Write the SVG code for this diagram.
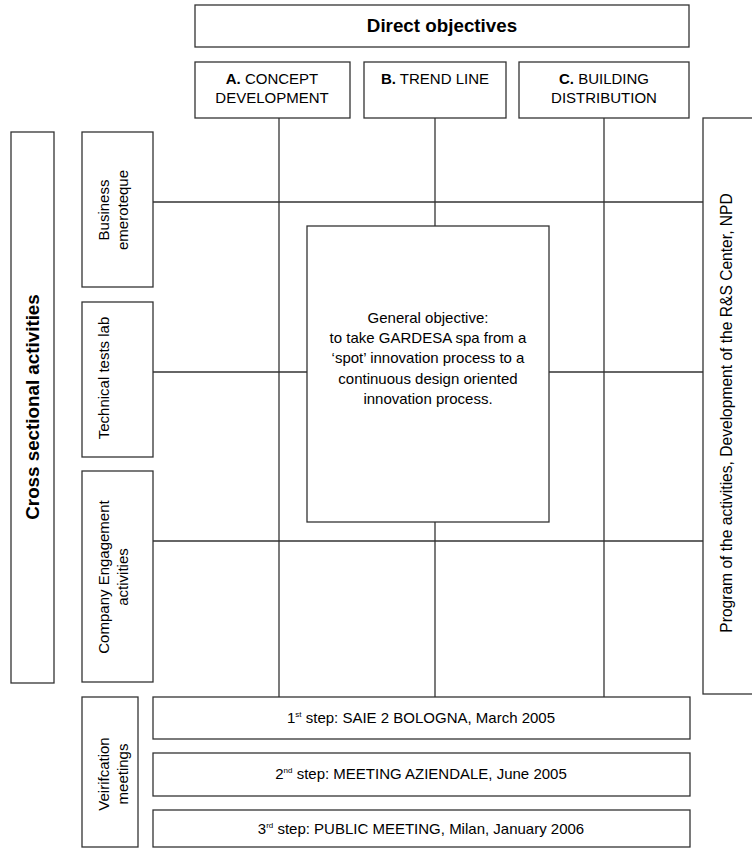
<svg xmlns="http://www.w3.org/2000/svg" width="752" height="852" viewBox="0 0 752 852">
<style>
rect.b{fill:#fff;stroke:#333;stroke-width:1.3}
line{stroke:#333;stroke-width:1.3}
text{font-family:"Liberation Sans",Arial,sans-serif;font-size:15px;fill:#000;text-anchor:middle}
.t{font-size:18.8px;font-weight:bold}
.sup{font-size:8px}
</style>
<rect width="752" height="852" fill="#fff"/>
<g id="connectors">
<line x1="279" y1="118" x2="279" y2="697"/>
<line x1="435" y1="118" x2="435" y2="697"/>
<line x1="604" y1="118" x2="604" y2="697"/>
<line x1="153" y1="202" x2="703" y2="202"/>
<line x1="153" y1="372" x2="703" y2="372"/>
<line x1="153" y1="541" x2="703" y2="541"/>
</g>
<g id="direct"><rect class="b" x="195" y="5" width="494" height="42"/><text class="t" x="442" y="32">Direct objectives</text></g>
<g id="a"><rect class="b" x="195" y="62" width="155" height="56"/><text x="272" y="84"><tspan font-weight="bold">A.</tspan> CONCEPT</text><text x="272" y="103">DEVELOPMENT</text></g>
<g id="b"><rect class="b" x="364" y="62" width="142" height="56"/><text x="435" y="84"><tspan font-weight="bold">B.</tspan> TREND LINE</text></g>
<g id="c"><rect class="b" x="519" y="62" width="170" height="56"/><text x="604" y="84"><tspan font-weight="bold">C.</tspan> BUILDING</text><text x="604" y="103">DISTRIBUTION</text></g>
<g id="program"><rect class="b" x="703" y="118" width="60" height="576"/><text style="font-size:15.6px" transform="translate(732,413) rotate(-90)">Program of the activities,  Development of the R&amp;S Center, NPD</text></g>
<g id="cross"><rect class="b" x="11" y="132" width="43" height="551"/><text class="t" transform="translate(39,407) rotate(-90)">Cross sectional activities</text></g>
<g id="business"><rect class="b" x="82" y="132" width="71" height="155"/><text transform="translate(109,210) rotate(-90)">Business</text><text transform="translate(128,210) rotate(-90)">emeroteque</text></g>
<g id="technical"><rect class="b" x="82" y="302" width="71" height="155"/><text transform="translate(109,378) rotate(-90)">Technical tests lab</text></g>
<g id="company"><rect class="b" x="82" y="471" width="71" height="211"/><text transform="translate(109,577) rotate(-90)">Company Engagement</text><text transform="translate(128,577) rotate(-90)">activities</text></g>
<g id="general"><rect class="b" x="307" y="226" width="242" height="296"/>
<text x="428" y="323">General objective:</text>
<text x="428" y="343">to take GARDESA spa from a</text>
<text x="428" y="363">‘spot’ innovation process to a</text>
<text x="428" y="384">continuous design oriented</text>
<text x="428" y="404">innovation process.</text></g>
<g id="verification"><rect class="b" x="82" y="697" width="56" height="150"/><text transform="translate(109,774) rotate(-90)">Veirifcation</text><text transform="translate(128,774) rotate(-90)">meetings</text></g>
<g id="step1"><rect class="b" x="153" y="697" width="537" height="42"/><text x="421" y="723">1<tspan class="sup" dy="-6">st</tspan><tspan dy="6"> step: SAIE 2 BOLOGNA, March 2005</tspan></text></g>
<g id="step2"><rect class="b" x="153" y="753" width="537" height="43"/><text x="421" y="779">2<tspan class="sup" dy="-6">nd</tspan><tspan dy="6"> step: MEETING AZIENDALE, June 2005</tspan></text></g>
<g id="step3"><rect class="b" x="153" y="810" width="537" height="37"/><text x="421" y="834">3<tspan class="sup" dy="-6">rd</tspan><tspan dy="6"> step: PUBLIC MEETING, Milan, January 2006</tspan></text></g>
</svg>
